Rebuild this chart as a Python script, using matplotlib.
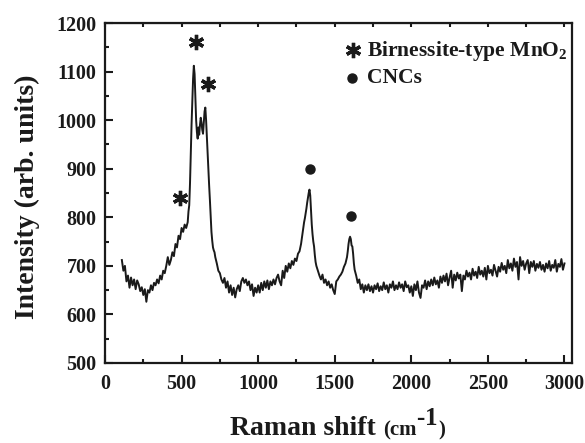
import numpy as np
import matplotlib
matplotlib.use('Agg')
import matplotlib.pyplot as plt
from matplotlib.ticker import MultipleLocator
from matplotlib.offsetbox import TextArea, HPacker, AnchoredOffsetbox

plt.rcParams['font.family'] = 'Liberation Serif'
plt.rcParams['font.weight'] = 'bold'
plt.rcParams['mathtext.fontset'] = 'custom'
plt.rcParams['mathtext.rm'] = 'Liberation Serif:bold'
plt.rcParams['mathtext.bf'] = 'Liberation Serif:bold'
plt.rcParams['mathtext.it'] = 'Liberation Serif:bold'

# Raman spectrum, region by region
shift_low = [110, 120, 130, 140, 150, 160, 170, 180, 190, 200, 210, 220, 230, 240,
             250, 260, 270, 280, 290, 300, 310, 320, 330, 340, 350, 360, 370, 380,
             390, 400, 410, 420, 430, 440, 450, 460, 470, 480, 490, 500, 510, 520,
             530, 540]
int_low = [712, 690, 700, 668, 680, 655, 676, 660, 672, 652, 670, 662, 648, 656,
           640, 652, 626, 650, 645, 660, 650, 665, 660, 672, 664, 680, 672, 690,
           685, 700, 718, 702, 712, 728, 720, 745, 738, 762, 755, 778, 770, 785,
           778, 790]

shift_mno2 = [545, 550, 555, 560, 565, 570, 575, 580, 585, 590, 595, 600, 605, 610,
              615, 620, 625, 630, 635, 640, 645, 650, 655, 660, 665, 670, 675, 680,
              685, 690, 695, 700, 705, 710, 715]
int_mno2 = [812, 825, 870, 930, 990, 1040, 1085, 1112, 1095, 1050, 1000, 975, 962, 985,
            970, 990, 1005, 995, 980, 972, 995, 1018, 1026, 1000, 965, 930, 895, 865,
            835, 800, 770, 752, 738, 732, 728]

shift_mid = [720, 730, 740, 750, 760, 770, 780, 790, 800, 810, 820, 830, 840, 850,
             860, 870, 880, 890, 900, 910, 920, 930, 940, 950, 960, 970, 980, 990,
             1000, 1010, 1020, 1030, 1040, 1050, 1060, 1070, 1080, 1090, 1100, 1110,
             1120, 1130, 1140, 1150, 1160, 1170, 1180, 1190, 1200, 1210, 1220, 1230,
             1240, 1250, 1260]
int_mid = [718, 705, 690, 685, 672, 665, 675, 655, 668, 645, 660, 640, 655, 635,
           652, 660, 648, 668, 675, 665, 672, 660, 668, 650, 662, 638, 655, 645,
           660, 645, 665, 650, 668, 655, 670, 652, 668, 660, 672, 662,
           675, 682, 668, 660, 690, 675, 700, 688, 705, 695, 710, 702,
           715, 710, 725]

shift_d = [1270, 1280, 1290, 1300, 1305, 1310, 1315, 1320, 1325, 1330, 1335, 1340,
           1345, 1350, 1355, 1360, 1365, 1370, 1375, 1380, 1390, 1400]
int_d = [730, 745, 768, 790, 798, 808, 818, 830, 840, 850, 857, 845,
         815, 785, 765, 750, 740, 722, 708, 700, 690, 680]

shift_g = [1410, 1420, 1430, 1440, 1450, 1460, 1470, 1480, 1490, 1500, 1510, 1520,
           1530, 1540, 1550, 1560, 1570, 1580, 1585, 1590, 1595, 1600, 1605, 1610,
           1615, 1620, 1625, 1630, 1640, 1650, 1660, 1670, 1680, 1690, 1700]
int_g = [672, 682, 665, 672, 660, 668, 655, 662, 650, 642, 668, 672,
         678, 682, 688, 698, 705, 718, 730, 745, 755, 760, 755, 742,
         740, 725, 705, 692, 680, 665, 672, 652, 662, 645, 660]

shift_high = list(range(1710, 3001, 10))
int_high = [650, 662, 648, 658, 645, 660, 652, 664, 648, 658, 650, 666, 652, 660,
            645, 662, 655, 668, 650, 660, 652, 666, 655, 662, 648, 668, 656, 660,
            645, 658, 638, 662, 650, 668, 645, 634, 660, 655, 670, 652, 668, 658,
            672, 660, 676, 662, 670, 655, 678, 665, 680, 668, 684, 660, 676, 690,
            655, 682, 670, 686, 674, 682, 648, 680, 672, 690, 678, 686, 672, 694,
            680, 688, 675, 698, 682, 690, 678, 696, 672, 700, 685, 692, 680, 702,
            690, 678, 698, 688, 706, 692, 700, 685, 712, 695, 705, 690, 715, 698,
            708, 672, 718, 700, 710, 692, 705, 712, 685, 708, 698, 710, 690, 704,
            696, 708, 692, 702, 688, 705, 695, 710, 690, 702, 696, 712, 688, 704,
            698, 714, 692, 705]

shift = shift_low + shift_mno2 + shift_mid + shift_d + shift_g + shift_high
intensity = int_low + int_mno2 + int_mid + int_d + int_g + int_high

# peak markers
star_x = [490, 595, 673]
star_y = [840, 1161, 1074]
dot_x = [1340, 1608]
dot_y = [900, 803]

INK = '#1a1a1a'

fig = plt.figure(figsize=(5.85, 4.43), dpi=100)
ax = fig.add_axes([0.1795, 0.1806, 0.7985, 0.7674])

ax.plot(shift, intensity, color=INK, lw=1.4)
ax.plot(star_x, star_y, ls='none', marker=(6, 2, 0), ms=11, mew=2.4, color=INK)
ax.plot(dot_x, dot_y, ls='none', marker='o', ms=6.5, color=INK)

# legend-like labels
ax.plot([1621], [1144], ls='none', marker=(6, 2, 0), ms=11, mew=2.4, color=INK)
ax.plot([1614], [1087], ls='none', marker='o', ms=6.5, color=INK)
ax.text(1712, 1143, 'Birnessite-type MnO$_2$', fontsize=15.5, fontweight='bold',
        va='center', ha='left', color=INK)
ax.text(1712, 1087, 'CNCs', fontsize=15.5, fontweight='bold',
        va='center', ha='left', color=INK)

ax.set_xlim(0, 3050)
ax.set_ylim(500, 1200)
ax.xaxis.set_major_locator(MultipleLocator(500))
ax.xaxis.set_minor_locator(MultipleLocator(250))
ax.yaxis.set_major_locator(MultipleLocator(100))
ax.yaxis.set_minor_locator(MultipleLocator(50))
ax.tick_params(which='both', direction='in', top=False, right=False, width=1.5,
               labelsize=14.5, colors=INK)
ax.tick_params(axis='x', pad=8)
ax.tick_params(axis='y', pad=6)
ax.tick_params(which='major', length=6)
ax.tick_params(which='minor', length=3)
for lab in ax.get_xticklabels() + ax.get_yticklabels():
    lab.set_fontweight('bold')
for sp in ax.spines.values():
    sp.set_linewidth(1.6)
    sp.set_color(INK)

top = ax.secondary_xaxis('top')
top.xaxis.set_major_locator(MultipleLocator(250))
top.tick_params(direction='in', length=3, width=1.5, labeltop=False, colors=INK)

ax.set_ylabel('Intensity (arb. units)', fontsize=20, fontweight='bold', color=INK)
ax.yaxis.set_label_coords(-0.139, 0.49)

# x label with mixed sizes: Raman shift (cm-1)
parts = HPacker(children=[
    TextArea('Raman shift ', textprops=dict(fontsize=20, fontweight='bold', color=INK)),
    TextArea('(cm', textprops=dict(fontsize=15, fontweight='bold', color=INK)),
    TextArea(r'$^{\text{-1}}$', textprops=dict(fontsize=26, fontweight='bold', color=INK)),
    TextArea(')', textprops=dict(fontsize=15, fontweight='bold', color=INK)),
], align='baseline', pad=0, sep=0)
box = AnchoredOffsetbox(loc='lower center', child=parts, pad=0, borderpad=0,
                        frameon=False, bbox_to_anchor=(0.577, 0.0),
                        bbox_transform=fig.transFigure)
fig.add_artist(box)

fig.savefig('out.png', dpi=100)
